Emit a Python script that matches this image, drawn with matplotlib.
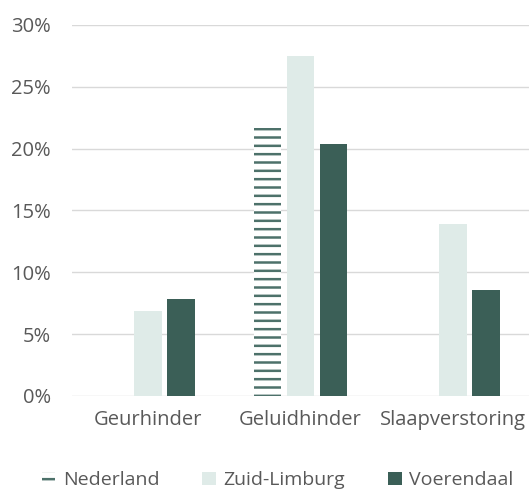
import numpy as np
import matplotlib.pyplot as plt

plt.rcParams['font.family'] = ['Open Sans', 'DejaVu Sans']
plt.rcParams['hatch.linewidth'] = 1.8

categories = ['Geurhinder', 'Geluidhinder', 'Slaapverstoring']
nederland = [np.nan, 21.7, np.nan]
zuid_limburg = [6.9, 27.5, 13.9]
voerendaal = [7.8, 20.4, 8.6]

fig = plt.figure(figsize=(5.29, 4.90), dpi=100)
ax = fig.add_axes([0.136, 0.192, 0.864, 0.757])

x = np.arange(len(categories))
w = 0.18
off = 0.217

ax.bar(x - off, nederland, width=w, color='white', edgecolor='#4d716a', linewidth=0,
       hatch='--', label='Nederland', zorder=3)
ax.bar(x, zuid_limburg, width=w, color='#dfebe8', label='Zuid-Limburg', zorder=3)
ax.bar(x + off, voerendaal, width=w, color='#3b5f57', label='Voerendaal', zorder=3)

ax.set_xlim(-0.5, 2.5)
ax.set_ylim(0, 30)
ax.set_yticks(np.arange(0, 31, 5))
ax.set_yticklabels([f'{v}%' for v in range(0, 31, 5)])
ax.set_xticks(x)
ax.set_xticklabels(categories)
ax.yaxis.grid(True, color='#d9d9d9', linewidth=1, zorder=0)
ax.set_axisbelow(True)
for s in ax.spines.values():
    s.set_visible(False)
ax.tick_params(axis='both', length=0, labelsize=14.5, colors='#595959')
ax.tick_params(axis='x', pad=10)
ax.tick_params(axis='y', pad=15)

ax.legend(loc='center', bbox_to_anchor=(0.45, -0.228), ncol=3, frameon=False,
          fontsize=14, labelcolor='#595959', handlelength=0.7, handleheight=0.7,
          columnspacing=2.2, handletextpad=0.4)

fig.savefig('out.png', dpi=100)
